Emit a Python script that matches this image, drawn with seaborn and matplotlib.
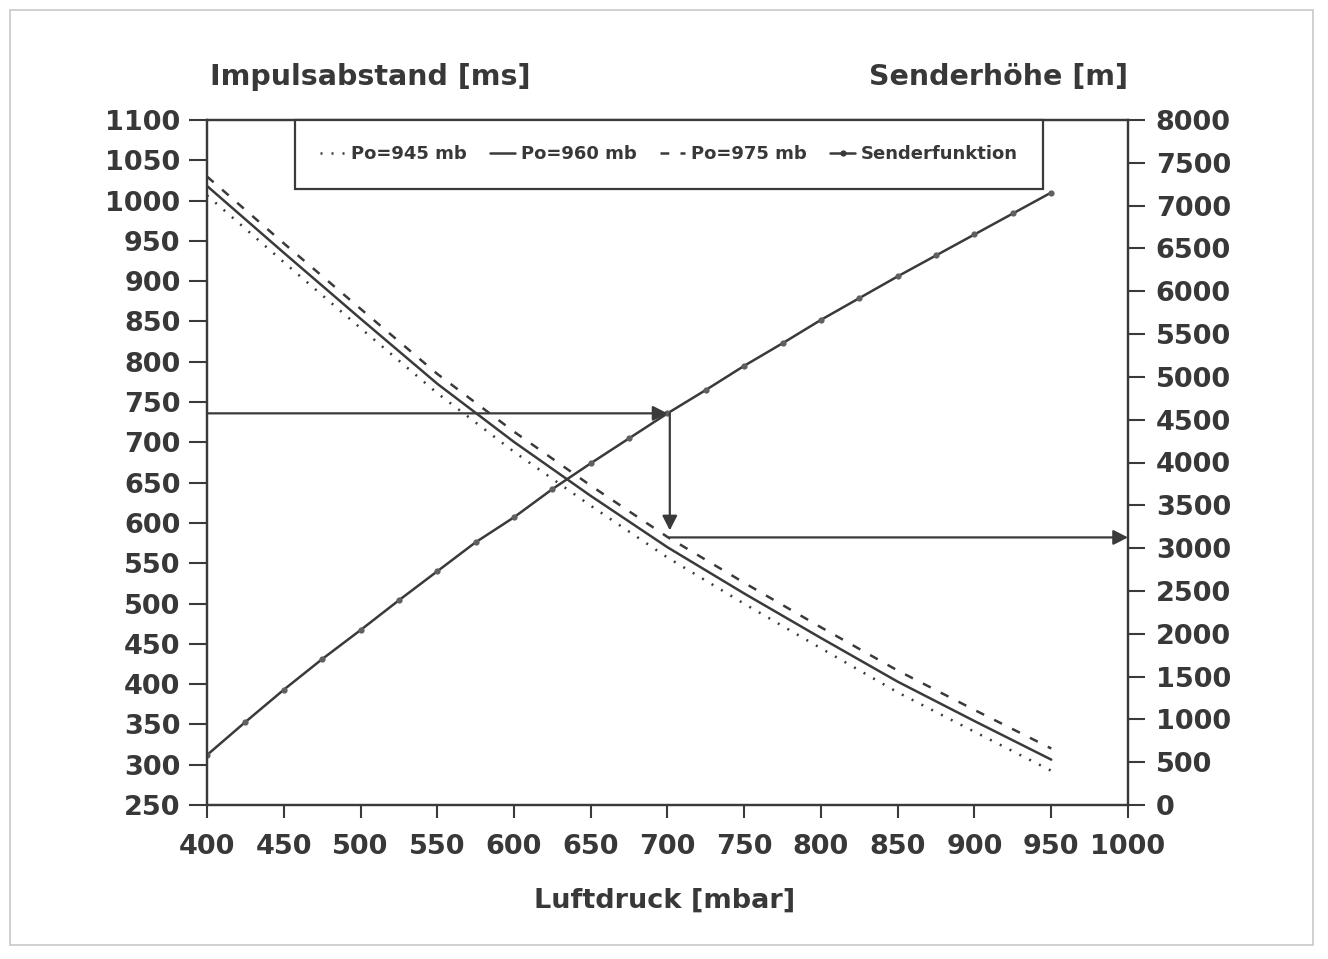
import matplotlib
matplotlib.use("Agg")
import matplotlib.pyplot as plt
import seaborn as sns
import numpy as np
import pandas as pd
from matplotlib.patches import Rectangle
from matplotlib.lines import Line2D

# ---------------- data ----------------
pressure_curves = [400, 450, 500, 550, 600, 650, 700, 750, 800, 850, 900, 950]
height_945 = [7120, 6340, 5570, 4810, 4125, 3495, 2890, 2350, 1830, 1315, 855, 400]
height_960 = [7230, 6450, 5680, 4920, 4240, 3610, 3010, 2470, 1950, 1440, 980, 530]
height_975 = [7340, 6560, 5795, 5035, 4360, 3730, 3130, 2595, 2075, 1570, 1110, 660]

pressure_sender = [400, 425, 450, 475, 500, 525, 550, 575, 600, 625, 650, 675,
                   700, 725, 750, 775, 800, 825, 850, 875, 900, 925, 950]
interval_sender = [312, 353, 393, 431, 467, 504, 540, 576, 607, 642, 674, 705,
                   736, 765, 795, 823, 852, 879, 906, 932, 958, 984, 1010]

series_labels = ["Po=945 mb", "Po=960 mb", "Po=975 mb", "Senderfunktion"]
left_ticks = list(range(250, 1101, 50))
right_ticks = list(range(0, 8001, 500))
x_ticks = list(range(400, 1001, 50))

read_pressure = 700
read_interval = 736
read_height_end = 3207
read_height = 3125

# ---------------- style ----------------
sns.set_style("ticks")
plt.rcParams["font.family"] = ["DejaVu Sans"]
plt.rcParams["font.weight"] = "bold"
INK = "#3a3a3a"
TXT = "#383838"

fig = plt.figure(figsize=(13.28, 9.59), dpi=100)
fig.patch.set_facecolor("white")
fig.patches.append(Rectangle((10 / 1328, 14 / 959), 1303 / 1328, 935 / 959,
                             transform=fig.transFigure, fill=False,
                             edgecolor="#c8c8c8", linewidth=1.2))

ax = fig.add_axes([207 / 1328, 1 - 805 / 959, 921 / 1328, 685 / 959])
ax2 = ax.twinx()

df_s = pd.DataFrame({"p": pressure_sender, "t": interval_sender})
sns.lineplot(data=df_s, x="p", y="t", ax=ax, color=INK, linewidth=1.8,
             marker="o", markersize=4.5, markeredgewidth=0, markerfacecolor="#606060")

lw = 1.8
sns.lineplot(x=pressure_curves, y=height_945, ax=ax2, color=INK, linewidth=lw,
             linestyle=(0, (0.8, 3.6)))
sns.lineplot(x=pressure_curves, y=height_960, ax=ax2, color=INK, linewidth=lw,
             linestyle="-")
sns.lineplot(x=pressure_curves, y=height_975, ax=ax2, color=INK, linewidth=lw,
             linestyle=(0, (3.5, 4.5)))

ax.set_xlim(400, 1000)
ax.set_ylim(250, 1100)
ax2.set_ylim(0, 8000)
ax.set_xticks(x_ticks)
ax.set_yticks(left_ticks)
ax2.set_yticks(right_ticks)
ax.set_xlabel("")
ax.set_ylabel("")
ax2.set_ylabel("")

for a in (ax, ax2):
    for s in a.spines.values():
        s.set_visible(True)
        s.set_color(INK)
        s.set_linewidth(1.6)
    a.grid(False)

ax.tick_params(axis="y", direction="out", length=13, width=1.5, color=INK,
               labelsize=19.5, labelcolor=TXT, pad=6)
ax.tick_params(axis="x", direction="out", length=9, width=1.5, color=INK,
               labelsize=19.5, labelcolor=TXT, pad=12)
ax2.tick_params(axis="y", direction="out", length=12, width=1.5, color=INK,
                labelsize=19.5, labelcolor=TXT, pad=8)
for lab in ax.get_xticklabels() + ax.get_yticklabels() + ax2.get_yticklabels():
    lab.set_fontweight("bold")

ax.text(0.003, 1.063, "Impulsabstand [ms]", transform=ax.transAxes,
        ha="left", va="center", fontsize=20.5, fontweight="bold", color=TXT)
ax.text(1.0, 1.063, "Senderhöhe [m]", transform=ax.transAxes,
        ha="right", va="center", fontsize=20.5, fontweight="bold", color=TXT)
ax.text(0.497, -0.14, "Luftdruck [mbar]", transform=ax.transAxes,
        ha="center", va="center", fontsize=19.5, fontweight="bold", color=TXT)

# reading arrows
arrow_kw = dict(arrowstyle="-|>,head_length=0.55,head_width=0.28", color=INK,
                lw=1.6, shrinkA=0, shrinkB=0, mutation_scale=16)
ax.annotate("", xy=(read_pressure, read_interval), xytext=(400, read_interval),
            xycoords="data", textcoords="data", arrowprops=arrow_kw)
ax2.annotate("", xy=(read_pressure + 1.5, read_height_end), xycoords=ax2.transData,
             xytext=(read_pressure + 1.5, read_interval), textcoords=ax.transData,
             arrowprops=arrow_kw)
ax2.annotate("", xy=(1000, read_height), xytext=(read_pressure + 1.5, read_height),
             xycoords="data", textcoords="data", arrowprops=arrow_kw)

# legend
handles = [
    Line2D([], [], color=INK, linewidth=lw, linestyle=(0, (0.8, 3.6))),
    Line2D([], [], color=INK, linewidth=lw, linestyle="-"),
    Line2D([], [], color=INK, linewidth=lw, linestyle=(0, (3.5, 4.5))),
    Line2D([], [], color=INK, linewidth=lw, marker="o", markersize=4.5,
           markeredgewidth=0),
]
leg = ax2.legend(handles, series_labels, loc="upper left",
                 bbox_to_anchor=(88 / 921, 1.0, 748 / 921, 0), mode="expand",
                 borderaxespad=0, ncol=4, frameon=True, fancybox=False,
                 borderpad=1.4, handlelength=1.4, handletextpad=0.3,
                 columnspacing=0.8, prop={"size": 13, "weight": "bold"},
                 labelcolor=TXT)
leg.get_frame().set_edgecolor(INK)
leg.get_frame().set_linewidth(1.6)
leg.get_frame().set_facecolor("white")
leg.get_frame().set_alpha(1)

fig.savefig("out.png", dpi=100, facecolor="white")
